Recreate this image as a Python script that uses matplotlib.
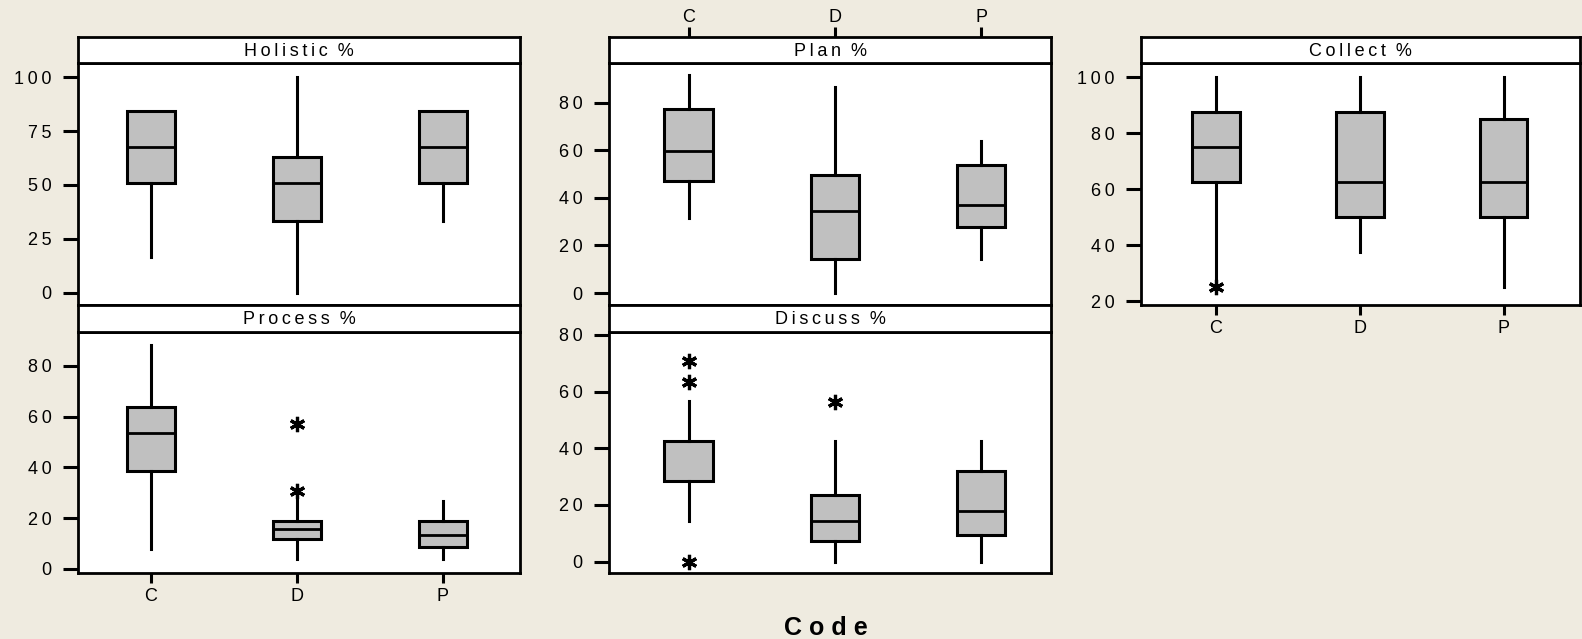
import matplotlib
matplotlib.use('Agg')
import matplotlib.pyplot as plt

plt.rcParams['font.family'] = ['Liberation Sans', 'DejaVu Sans']

# 데이터 : 코드별 상자그림 통계
codes = ['C', 'D', 'P']

holistic_whislo = [16.7, 0, 33.3]
holistic_q1 = [50.9, 33.3, 50.9]
holistic_med = [67.6, 50.9, 67.6]
holistic_q3 = [84.3, 63, 84.3]
holistic_whishi = [84.3, 100, 84.3]
holistic_fliers = [[], [], []]

plan_whislo = [31.7, 0, 14.2]
plan_q1 = [47, 14.3, 27.7]
plan_med = [59.8, 34.7, 36.9]
plan_q3 = [77.4, 49.6, 53.8]
plan_whishi = [91.8, 86.6, 64]
plan_fliers = [[], [], []]

collect_whislo = [25.5, 37.6, 25]
collect_q1 = [62.5, 50, 50]
collect_med = [75, 62.5, 62.5]
collect_q3 = [87.5, 87.5, 85]
collect_whishi = [100, 100, 100]
collect_fliers = [[25], [], []]

process_whislo = [7.9, 3.9, 3.9]
process_q1 = [38.5, 11.9, 8.6]
process_med = [53.4, 15.7, 13.4]
process_q3 = [63.7, 18.9, 18.9]
process_whishi = [88, 28.6, 26.8]
process_fliers = [[], [57.1, 30.5], []]

discuss_whislo = [14.3, 0, 0]
discuss_q1 = [28.4, 7.3, 9.3]
discuss_med = [42.5, 14.4, 17.9]
discuss_q3 = [42.5, 23.4, 31.8]
discuss_whishi = [56.5, 42.5, 42.5]
discuss_fliers = [[70.6, 63.4, 0], [56.2], []]

W, H = 1582, 639
BG = '#EFEBE0'
fig = plt.figure(figsize=(W / 100, H / 100), dpi=100, facecolor=BG)


def spaced(s):
    return '\u2009'.join(s)


def make_stats(lo, q1, med, q3, hi, fl):
    return [dict(whislo=lo[i], q1=q1[i], med=med[i], q3=q3[i], whishi=hi[i],
                 fliers=fl[i], label=codes[i]) for i in range(len(codes))]


def panel(x0, x1, strip_top, ytop, ybot, title, stats, ylim, yticks, xlim,
          top_labels=False, bottom_labels=False):
    # 본 그래프 영역
    ax = fig.add_axes([x0 / W, 1 - ybot / H, (x1 - x0) / W, (ybot - ytop) / H])
    ax.bxp(stats, positions=[1, 2, 3], widths=0.33, patch_artist=True,
           showcaps=False,
           boxprops=dict(facecolor='#C0C0C0', edgecolor='black', linewidth=2.2),
           medianprops=dict(color='black', linewidth=2),
           whiskerprops=dict(color='black', linewidth=2.2),
           flierprops=dict(marker=(6, 2, 0), markersize=11, markeredgewidth=2.3,
                           markeredgecolor='black', linestyle='none'))
    ax.set_xlim(*xlim)
    ax.set_ylim(*ylim)
    ax.set_yticks(yticks)
    ax.set_yticklabels([spaced(str(t)) for t in yticks])
    for s in ax.spines.values():
        s.set_linewidth(2)
    ax.tick_params(axis='y', length=11, width=2.2, pad=8, labelsize=13)
    ax.set_xticks([1, 2, 3])
    if bottom_labels:
        ax.set_xticklabels(codes)
        ax.tick_params(axis='x', length=7, width=2.2, pad=4, labelsize=13)
    else:
        ax.tick_params(axis='x', bottom=False, labelbottom=False)

    # 패널 제목(스트립)
    st = fig.add_axes([x0 / W, 1 - ytop / H, (x1 - x0) / W, (ytop - strip_top) / H])
    st.set_facecolor('white')
    st.set_xlim(*xlim)
    st.set_yticks([])
    for s in st.spines.values():
        s.set_linewidth(2)
    st.text(0.5, 0.45, title, transform=st.transAxes, ha='center', va='center',
            fontsize=13)
    if top_labels:
        st.set_xticks([1, 2, 3])
        st.set_xticklabels(codes)
        st.tick_params(axis='x', bottom=False, labelbottom=False, top=True,
                       labeltop=True, length=7, width=2.2, pad=1, labelsize=13)
    else:
        st.set_xticks([])
    return ax


panel(78, 520, 37, 63, 305, spaced('Holistic') + '  %',
      make_stats(holistic_whislo, holistic_q1, holistic_med, holistic_q3,
                 holistic_whishi, holistic_fliers),
      (-5.6, 106.5), [0, 25, 50, 75, 100], (0.5, 3.53))

panel(609, 1051, 37, 63, 305, spaced('Plan') + '  %',
      make_stats(plan_whislo, plan_q1, plan_med, plan_q3, plan_whishi, plan_fliers),
      (-5.05, 96.8), [0, 20, 40, 60, 80], (0.456, 3.476), top_labels=True)

panel(1141, 1580, 37, 63, 305, spaced('Collect') + '  %',
      make_stats(collect_whislo, collect_q1, collect_med, collect_q3,
                 collect_whishi, collect_fliers),
      (18.6, 105), [20, 40, 60, 80, 100], (0.48, 3.53), bottom_labels=True)

panel(78, 520, 305, 332, 573, spaced('Process') + '  %',
      make_stats(process_whislo, process_q1, process_med, process_q3,
                 process_whishi, process_fliers),
      (-1.6, 93.3), [0, 20, 40, 60, 80], (0.5, 3.53), bottom_labels=True)

panel(609, 1051, 305, 332, 573, spaced('Discuss') + '  %',
      make_stats(discuss_whislo, discuss_q1, discuss_med, discuss_q3,
                 discuss_whishi, discuss_fliers),
      (-4, 81), [0, 20, 40, 60, 80], (0.456, 3.476))

fig.text(826 / W, 1 - 628 / H, 'C o d e', ha='center', va='center',
         fontsize=18, fontweight='bold')

plt.savefig('out.png', dpi=100, facecolor=BG)
